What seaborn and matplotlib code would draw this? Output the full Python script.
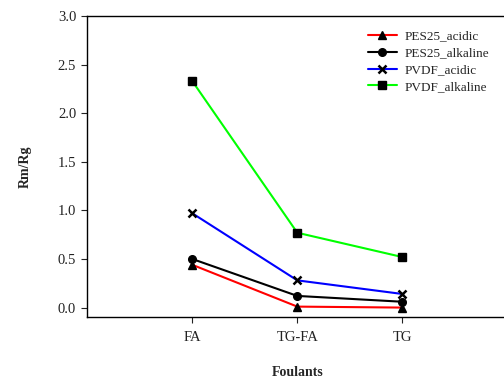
import matplotlib
matplotlib.use("Agg")
import matplotlib.pyplot as plt
import seaborn as sns
import pandas as pd

foulants = ["FA", "TG-FA", "TG"]
pes25_acidic = [0.44, 0.01, 0.00]
pes25_alkaline = [0.50, 0.12, 0.06]
pvdf_acidic = [0.97, 0.28, 0.14]
pvdf_alkaline = [2.33, 0.77, 0.52]

series = [
    ("PES25_acidic", pes25_acidic, "#ff0000", "^"),
    ("PES25_alkaline", pes25_alkaline, "#000000", "o"),
    ("PVDF_acidic", pvdf_acidic, "#0000ff", "x"),
    ("PVDF_alkaline", pvdf_alkaline, "#00ff00", "s"),
]

sns.set_style("ticks")
plt.rcParams["font.family"] = ["Liberation Serif", "DejaVu Serif"]

fig = plt.figure(figsize=(5.04, 3.82), dpi=100)
ax = fig.add_axes([87.3 / 504, 1 - 317.3 / 382, 420 / 504, (317.3 - 16) / 382])

for name, vals, col, mk in series:
    df = pd.DataFrame({"x": [0, 1, 2], "y": vals})
    sns.lineplot(data=df, x="x", y="y", ax=ax, color=col, marker=mk,
                 markersize=5.5 if mk != "x" else 6, mfc="black", mec="black",
                 mew=1.8 if mk == "x" else 1, linewidth=1.5, label=name)

ax.set_xlim(-1, 3)
ax.set_ylim(-0.1, 3.0)
ax.set_xticks([0, 1, 2])
ax.set_xticklabels(foulants)
ax.set_yticks([0, 0.5, 1.0, 1.5, 2.0, 2.5, 3.0])
ax.set_yticklabels(["0.0", "0.5", "1.0", "1.5", "2.0", "2.5", "3.0"])
ax.tick_params(axis="both", labelsize=10.5, length=4, width=0.8, colors="#222222", pad=4)
ax.tick_params(axis="x", pad=6)
for s in ax.spines.values():
    s.set_visible(True)
    s.set_linewidth(1.0)
    s.set_color("black")

ax.set_xlabel("Foulants", fontsize=10, fontweight="bold", labelpad=16)
ax.set_ylabel("Rm/Rg", fontsize=10, fontweight="bold", labelpad=19)

leg = ax.legend(loc="upper left", bbox_to_anchor=(0.655, 0.97), frameon=False,
                fontsize=9.5, handlelength=2.2, handletextpad=0.6,
                labelspacing=0.35, borderaxespad=0)

fig.savefig("out.png", dpi=100)
